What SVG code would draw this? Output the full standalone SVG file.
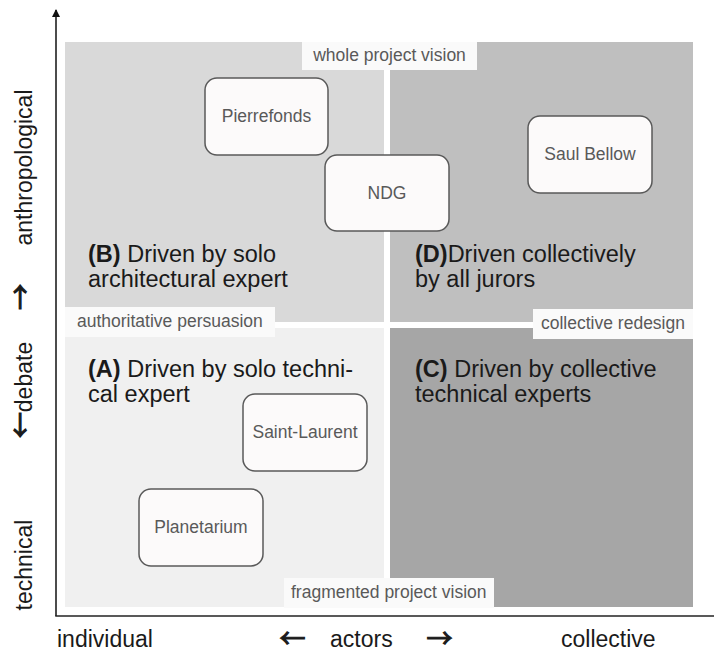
<svg xmlns="http://www.w3.org/2000/svg" width="714" height="654" viewBox="0 0 714 654">
<style>
text{font-family:"Liberation Sans",Arial,sans-serif}
.node rect{fill:#fcfafa;stroke:#595959;stroke-width:1.5}
.node text{font-size:17.5px;fill:#595959;text-anchor:middle}
.lbl rect{fill:#fafafa}
.lbl text{font-size:17.5px;fill:#595959}
.title{font-size:23.5px;fill:#1a1a1a}
.title tspan.b{font-weight:bold}
.axis{font-size:23px;fill:#1a1a1a}
.arr{font-family:"Noto Sans CJK SC","DejaVu Sans",sans-serif;font-size:26px;fill:#1a1a1a;stroke:#1a1a1a;stroke-width:1.1}
</style>
<defs>
<marker id="ah" markerWidth="8" markerHeight="8" refX="7" refY="4" orient="auto" markerUnits="userSpaceOnUse">
<path d="M0,0 L8,4 L0,8 Z" fill="#111"/>
</marker>
</defs>
<rect width="714" height="654" fill="#ffffff"/>
<g id="quadrants">
<rect id="qB" x="65" y="42" width="319" height="280" fill="#d9d9d9"/>
<rect id="qD" x="390" y="42" width="303" height="280" fill="#bfbfbf"/>
<rect id="qA" x="65" y="328" width="319" height="279" fill="#f0f0f0"/>
<rect id="qC" x="390" y="328" width="303" height="279" fill="#a6a6a6"/>
</g>
<g id="titles">
<text class="title" x="88" y="262"><tspan class="b">(B)</tspan> Driven by solo</text>
<text class="title" x="88" y="287">architectural expert</text>
<text class="title" x="415" y="262"><tspan class="b">(D)</tspan>Driven collectively</text>
<text class="title" x="415" y="287">by all jurors</text>
<text class="title" x="88" y="377"><tspan class="b">(A)</tspan> Driven by solo techni-</text>
<text class="title" x="88" y="402">cal expert</text>
<text class="title" x="415" y="377"><tspan class="b">(C)</tspan> Driven by collective</text>
<text class="title" x="415" y="402">technical experts</text>
</g>
<g id="labels">
<g class="lbl" id="l-whole"><rect x="302" y="42" width="175" height="28"/><text x="389.5" y="61" text-anchor="middle">whole project vision</text></g>
<g class="lbl" id="l-auth"><rect x="65" y="307" width="210" height="30"/><text x="77" y="327">authoritative persuasion</text></g>
<g class="lbl" id="l-coll"><rect x="533" y="309" width="160" height="30"/><text x="541" y="329">collective redesign</text></g>
<g class="lbl" id="l-frag"><rect x="284" y="578" width="210" height="30"/><text x="291" y="598">fragmented project vision</text></g>
</g>
<g id="connectors">
<line x1="56" y1="616" x2="56" y2="10" stroke="#111" stroke-width="1.5" marker-end="url(#ah)"/>
<line x1="55.25" y1="616" x2="714" y2="616" stroke="#222" stroke-width="1.5"/>
</g>
<g id="n-pierrefonds" class="node"><rect x="205" y="78" width="123" height="77" rx="12"/><text x="266.5" y="122">Pierrefonds</text></g>
<g id="n-ndg" class="node"><rect x="325" y="155" width="124" height="76" rx="12"/><text x="387" y="199">NDG</text></g>
<g id="n-saulbellow" class="node"><rect x="528" y="116" width="124" height="77" rx="12"/><text x="590" y="160">Saul Bellow</text></g>
<g id="n-saintlaurent" class="node"><rect x="243" y="394" width="124" height="77" rx="12"/><text x="305" y="438">Saint-Laurent</text></g>
<g id="n-planetarium" class="node"><rect x="139" y="489" width="124" height="77" rx="12"/><text x="201" y="533">Planetarium</text></g>
<g id="axis-labels">
<text class="axis" x="57" y="647">individual</text>
<text class="arr" x="292.5" y="648" text-anchor="middle">←</text>
<text class="axis" x="330" y="647">actors</text>
<text class="arr" x="439.5" y="648" text-anchor="middle">→</text>
<text class="axis" x="561" y="647">collective</text>
<text class="axis" transform="translate(32,167.5) rotate(-90)" text-anchor="middle">anthropological</text>
<text class="arr" transform="translate(30,297) rotate(-90)" text-anchor="middle">→</text>
<text class="axis" transform="translate(32,377) rotate(-90)" text-anchor="middle">debate</text>
<text class="arr" transform="translate(30,425) rotate(-90)" text-anchor="middle">←</text>
<text class="axis" transform="translate(32,565) rotate(-90)" text-anchor="middle">technical</text>
</g>
</svg>
